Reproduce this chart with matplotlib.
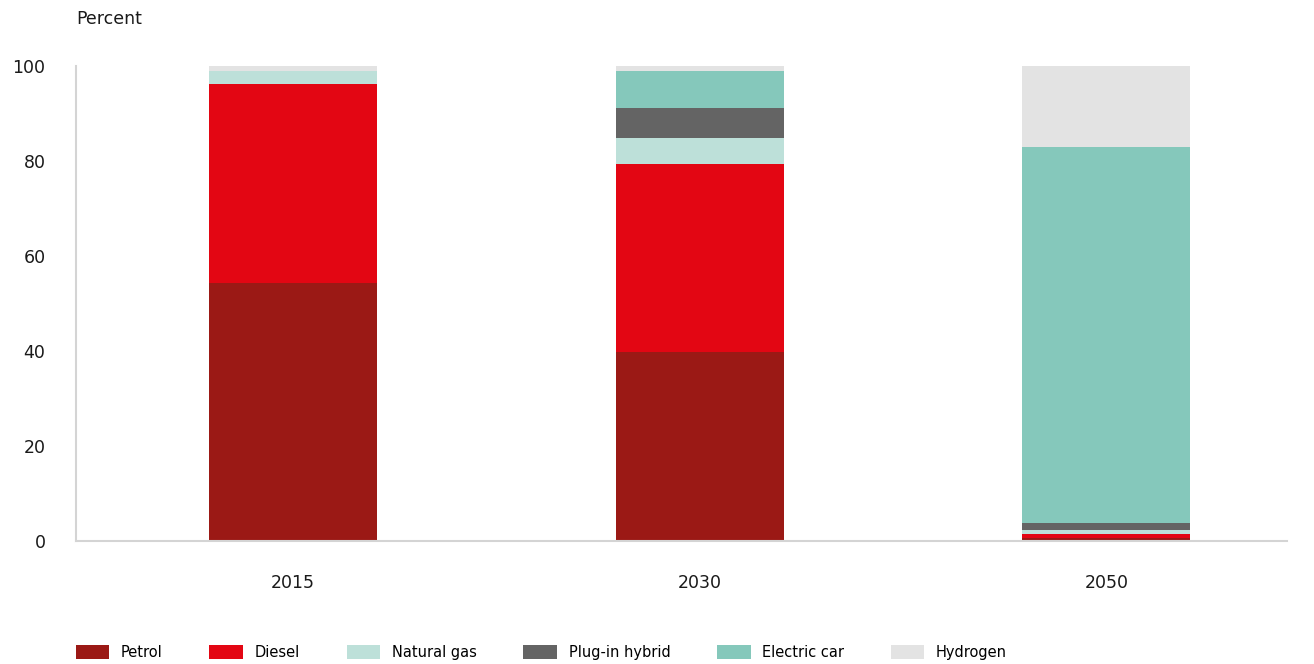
import numpy as np
import matplotlib.pyplot as plt
from matplotlib.patches import Patch

plt.rcParams['font.family'] = ['DejaVu Sans']

years = ['2015', '2030', '2050']
fuels = ['Petrol', 'Diesel', 'Natural gas', 'Plug-in hybrid', 'Electric car', 'Hydrogen']
petrol = [54.3, 39.8, 0.7]
diesel = [41.9, 39.6, 0.8]
natural_gas = [2.7, 5.5, 0.8]
plugin_hybrid = [0.0, 6.3, 1.5]
electric_car = [0.0, 7.8, 79.2]
hydrogen = [1.1, 1.0, 17.0]

colors = ['#9b1915', '#e30613', '#bde0d9', '#646464', '#85c8bb', '#e3e3e3']
series = [petrol, diesel, natural_gas, plugin_hybrid, electric_car, hydrogen]


def main():
    fig = plt.figure(figsize=(13.14, 6.64), dpi=100)
    ax = fig.add_axes([0.0578, 0.1852, 0.9217, 0.7154])

    x = np.arange(len(years))
    bottom = np.zeros(len(years))
    for vals, col in zip(series, colors):
        ax.bar(x, vals, 0.413, bottom=bottom, color=col, linewidth=0)
        bottom += np.array(vals)

    ax.set_xlim(-0.533, 2.444)
    ax.set_ylim(0, 100)
    ax.set_yticks(range(0, 101, 20))
    ax.set_xticks(x)
    ax.set_xticklabels(years)
    ax.tick_params(axis='both', length=0, labelsize=12.5, colors='#1a1a1a')
    ax.tick_params(axis='x', pad=24)
    ax.tick_params(axis='y', pad=22)

    for s in ['top', 'right']:
        ax.spines[s].set_visible(False)
    ax.spines['left'].set_color('#d4d4d4')
    ax.spines['bottom'].set_color('#d4d4d4')
    ax.spines['left'].set_linewidth(1.5)
    ax.spines['bottom'].set_linewidth(1.5)

    fig.text(0.0578, 0.985, 'Percent', fontsize=12.5, va='top', ha='left', color='#1a1a1a')

    handles = [Patch(facecolor=c, edgecolor='none') for c in colors]
    fig.legend(handles, fuels, loc='lower left', bbox_to_anchor=(0.0578 - 0.0045, -0.003),
               ncol=6, frameon=False, fontsize=10.5, handlelength=2.3, handleheight=1.1,
               handletextpad=0.8, columnspacing=3.2, borderaxespad=0)

    fig.savefig('out.png', dpi=100)


if __name__ == "__main__":
    main()
